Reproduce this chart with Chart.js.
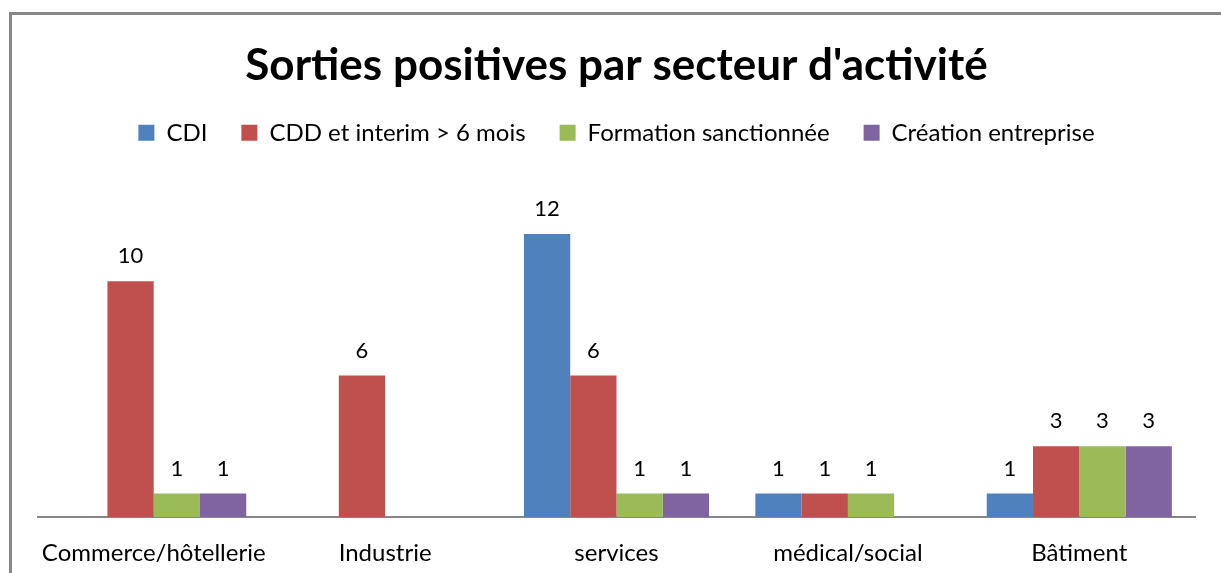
<!DOCTYPE html>
<html>
<head>
<meta charset="utf-8">
<script src="https://cdn.jsdelivr.net/npm/chart.js@4"></script>
<style>
  html, body { margin: 0; padding: 0; background: #fff; overflow: hidden; }
  #wrap { position: relative; width: 1221px; height: 573px; }
  #frame {
    position: absolute; left: 9px; top: 12px; right: -10px; bottom: -10px;
    border-left: 3px solid #878787; border-top: 3px solid #878787;
    pointer-events: none;
  }
</style>
</head>
<body>
<div id="wrap">
  <canvas id="chart" width="1221" height="573"></canvas>
  <div id="frame"></div>
</div>
<script>
  // Sorties positives par secteur d'activité
  const categories = ['Commerce/hôtellerie', 'Industrie', 'services', 'médical/social', 'Bâtiment'];
  const seriesNames = ['CDI', 'CDD et interim > 6 mois', 'Formation sanctionnée', 'Création entreprise'];
  const cdi = [null, null, 12, 1, 1];
  const cdd = [10, 6, 6, 1, 3];
  const formation = [1, null, 1, 1, 3];
  const creation = [1, null, 1, null, 3];
  const colors = ['#4F81BD', '#C0504D', '#9BBB59', '#8064A2'];

  const FONT = 'Lato, "Open Sans", sans-serif';

  // values written above each bar
  const barLabels = {
    id: 'barLabels',
    afterDatasetsDraw(chart) {
      const ctx = chart.ctx;
      ctx.save();
      ctx.font = '22px ' + FONT;
      ctx.fillStyle = '#000';
      ctx.textAlign = 'center';
      ctx.textBaseline = 'middle';
      chart.data.datasets.forEach((ds, i) => {
        const meta = chart.getDatasetMeta(i);
        meta.data.forEach((bar, j) => {
          const v = ds.data[j];
          if (v === null || v === undefined) return;
          ctx.fillText(String(v), bar.x, bar.y - 25);
        });
      });
      ctx.restore();
    }
  };

  // extra space under the legend
  const legendGap = {
    id: 'legendGap',
    beforeInit(chart) {
      const fit = chart.legend.fit;
      chart.legend.fit = function () {
        fit.bind(chart.legend)();
        this.height += 32;
      };
    }
  };

  const datasets = [cdi, cdd, formation, creation].map((d, i) => ({
    label: seriesNames[i],
    data: d,
    backgroundColor: colors[i],
    borderWidth: 0,
    categoryPercentage: 0.8,
    barPercentage: 1.0
  }));

  new Chart(document.getElementById('chart'), {
    type: 'bar',
    data: { labels: categories, datasets: datasets },
    options: {
      responsive: false,
      animation: false,
      layout: { padding: { left: 38, right: 26, top: 16, bottom: 0 } },
      plugins: {
        title: {
          display: true,
          text: "Sorties positives par secteur d'activité",
          color: '#000',
          font: { family: FONT, size: 44, weight: 'bold' },
          padding: { top: 23, bottom: -5 }
        },
        legend: {
          position: 'top',
          labels: {
            color: '#000',
            font: { family: FONT, size: 24 },
            boxWidth: 16,
            boxHeight: 16,
            padding: 34
          }
        },
        tooltip: { enabled: false }
      },
      scales: {
        x: {
          grid: { display: false, drawTicks: false },
          border: { color: '#878787', width: 2 },
          ticks: { color: '#000', font: { family: FONT, size: 24 }, padding: 22, maxRotation: 0 },
          afterFit(scale) { scale.height = 56; }
        },
        y: {
          display: false,
          min: 0,
          max: 14
        }
      }
    },
    plugins: [barLabels, legendGap]
  });
</script>
</body>
</html>
